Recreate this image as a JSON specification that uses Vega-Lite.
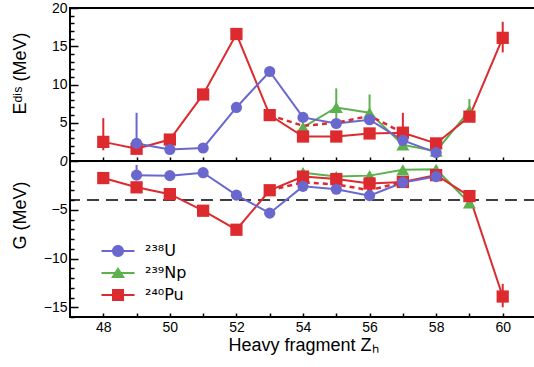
{
  "$schema": "https://vega.github.io/schema/vega-lite/v6.json",
  "autosize": {"type": "pad"},
  "padding": {"left": 9, "top": 0, "right": 0, "bottom": 0},
  "spacing": 0,
  "bounds": "flush",
  "datasets": {
    "edis": [
      {"iso": "²³⁹Np", "Z": 54, "v": 4.4},
      {"iso": "²³⁹Np", "Z": 55, "v": 7.0},
      {"iso": "²³⁹Np", "Z": 56, "v": 6.3},
      {"iso": "²³⁹Np", "Z": 57, "v": 2.1},
      {"iso": "²³⁹Np", "Z": 58, "v": 1.3},
      {"iso": "²³⁹Np", "Z": 59, "v": 6.6},
      {"iso": "²⁴⁰Pu", "Z": 48, "v": 2.5},
      {"iso": "²⁴⁰Pu", "Z": 49, "v": 1.6},
      {"iso": "²⁴⁰Pu", "Z": 50, "v": 2.8},
      {"iso": "²⁴⁰Pu", "Z": 51, "v": 8.7},
      {"iso": "²⁴⁰Pu", "Z": 52, "v": 16.6},
      {"iso": "²⁴⁰Pu", "Z": 53, "v": 6.0},
      {"iso": "²⁴⁰Pu", "Z": 54, "v": 3.2},
      {"iso": "²⁴⁰Pu", "Z": 55, "v": 3.2},
      {"iso": "²⁴⁰Pu", "Z": 56, "v": 3.6},
      {"iso": "²⁴⁰Pu", "Z": 57, "v": 3.7},
      {"iso": "²⁴⁰Pu", "Z": 58, "v": 2.3},
      {"iso": "²⁴⁰Pu", "Z": 59, "v": 5.8},
      {"iso": "²⁴⁰Pu", "Z": 60, "v": 16.1},
      {"iso": "²³⁸U", "Z": 49, "v": 2.3},
      {"iso": "²³⁸U", "Z": 50, "v": 1.5},
      {"iso": "²³⁸U", "Z": 51, "v": 1.7},
      {"iso": "²³⁸U", "Z": 52, "v": 7.0},
      {"iso": "²³⁸U", "Z": 53, "v": 11.7},
      {"iso": "²³⁸U", "Z": 54, "v": 5.7},
      {"iso": "²³⁸U", "Z": 55, "v": 4.9},
      {"iso": "²³⁸U", "Z": 56, "v": 5.4},
      {"iso": "²³⁸U", "Z": 57, "v": 2.7},
      {"iso": "²³⁸U", "Z": 58, "v": 1.1}
    ],
    "edis_dash": [
      {"iso": "²⁴⁰Pu", "Z": 53, "v": 6.0},
      {"iso": "²⁴⁰Pu", "Z": 54, "v": 4.6},
      {"iso": "²⁴⁰Pu", "Z": 55, "v": 5.0},
      {"iso": "²⁴⁰Pu", "Z": 56, "v": 5.9},
      {"iso": "²⁴⁰Pu", "Z": 57, "v": 3.7}
    ],
    "edis_err": [
      {"iso": "²⁴⁰Pu", "Z": 48, "lo": 1.4, "hi": 5.6},
      {"iso": "²³⁸U", "Z": 49, "lo": 1.6, "hi": 6.3},
      {"iso": "²³⁹Np", "Z": 55, "lo": 5.5, "hi": 9.5},
      {"iso": "²³⁹Np", "Z": 56, "lo": 5.0, "hi": 8.7},
      {"iso": "²⁴⁰Pu", "Z": 57, "lo": 2.0, "hi": 6.3},
      {"iso": "²³⁹Np", "Z": 59, "lo": 6.0, "hi": 8.1},
      {"iso": "²⁴⁰Pu", "Z": 60, "lo": 14.2, "hi": 18.2}
    ],
    "gval": [
      {"iso": "²³⁹Np", "Z": 54, "v": -1.2},
      {"iso": "²³⁹Np", "Z": 55, "v": -1.6},
      {"iso": "²³⁹Np", "Z": 56, "v": -1.5},
      {"iso": "²³⁹Np", "Z": 57, "v": -0.9},
      {"iso": "²³⁹Np", "Z": 58, "v": -0.85},
      {"iso": "²³⁹Np", "Z": 59, "v": -4.3},
      {"iso": "²⁴⁰Pu", "Z": 48, "v": -1.75},
      {"iso": "²⁴⁰Pu", "Z": 49, "v": -2.7},
      {"iso": "²⁴⁰Pu", "Z": 50, "v": -3.4},
      {"iso": "²⁴⁰Pu", "Z": 51, "v": -5.1},
      {"iso": "²⁴⁰Pu", "Z": 52, "v": -7.05},
      {"iso": "²⁴⁰Pu", "Z": 53, "v": -3.0},
      {"iso": "²⁴⁰Pu", "Z": 54, "v": -1.6},
      {"iso": "²⁴⁰Pu", "Z": 55, "v": -1.85},
      {"iso": "²⁴⁰Pu", "Z": 56, "v": -2.3},
      {"iso": "²⁴⁰Pu", "Z": 57, "v": -2.15},
      {"iso": "²⁴⁰Pu", "Z": 58, "v": -1.45},
      {"iso": "²⁴⁰Pu", "Z": 59, "v": -3.6},
      {"iso": "²⁴⁰Pu", "Z": 60, "v": -13.9},
      {"iso": "²³⁸U", "Z": 49, "v": -1.45},
      {"iso": "²³⁸U", "Z": 50, "v": -1.5},
      {"iso": "²³⁸U", "Z": 51, "v": -1.2},
      {"iso": "²³⁸U", "Z": 52, "v": -3.5},
      {"iso": "²³⁸U", "Z": 53, "v": -5.35},
      {"iso": "²³⁸U", "Z": 54, "v": -2.6},
      {"iso": "²³⁸U", "Z": 55, "v": -2.9},
      {"iso": "²³⁸U", "Z": 56, "v": -3.55},
      {"iso": "²³⁸U", "Z": 57, "v": -2.2},
      {"iso": "²³⁸U", "Z": 58, "v": -1.6}
    ],
    "g_dash": [
      {"iso": "²⁴⁰Pu", "Z": 53, "v": -3.0},
      {"iso": "²⁴⁰Pu", "Z": 54, "v": -2.2},
      {"iso": "²⁴⁰Pu", "Z": 55, "v": -2.4},
      {"iso": "²⁴⁰Pu", "Z": 56, "v": -3.0},
      {"iso": "²⁴⁰Pu", "Z": 57, "v": -2.15}
    ],
    "g_err": [
      {"iso": "²⁴⁰Pu", "Z": 48, "lo": -2.2, "hi": -1.3},
      {"iso": "²³⁸U", "Z": 49, "lo": -1.9, "hi": -0.4},
      {"iso": "²⁴⁰Pu", "Z": 60, "lo": -15.0, "hi": -12.6}
    ],
    "g_ref": [{"g": -4}]
  },
  "vconcat": [
    {
      "width": 466,
      "height": 153,
      "resolve": {"axis": {"x": "independent", "y": "independent"}},
      "layer": [
        {
          "data": {"name": "edis"},
          "mark": {"type": "line", "strokeWidth": 2},
          "encoding": {
            "x": {"field": "Z", "type": "quantitative", "scale": {"domain": [47, 61], "nice": false, "zero": false},
              "axis": {"values": [48,49,50,51,52,53,54,55,56,57,58,59,60], "tickSize": -4, "labels": false, "title": null}},
            "y": {"field": "v", "type": "quantitative", "scale": {"domain": [0, 20], "nice": false, "zero": false},
              "axis": {"values": [0,1,2,3,4,5,6,7,8,9,10,11,12,13,14,15,16,17,18,19,20],
                "tickSize": {"condition": {"test": "datum.value % 5 === 0", "value": -8}, "value": -4},
                "labelExpr": "datum.value % 5 === 0 ? datum.label : ''",
                "labelFontStyle": {"condition": {"test": "datum.value === 0", "value": "italic"}, "value": "normal"},
                "labelPadding": 11,
                "title": "Eᵈⁱˢ (MeV)", "titleX": -50, "titleY": 65, "titleAlign": "center", "titleBaseline": "middle", "titleAngle": -90}},
            "color": {"field": "iso", "type": "nominal", "scale": {"domain": ["²³⁸U", "²³⁹Np", "²⁴⁰Pu"], "range": ["#6a67cf", "#5cb04e", "#dc2a2e"]}}
          }
        },
        {
          "data": {"name": "edis_dash"},
          "mark": {"type": "line", "strokeWidth": 2.5, "strokeDash": [5, 4], "color": "#dc2a2e"},
          "encoding": {
            "x": {"field": "Z", "type": "quantitative", "axis": null},
            "y": {"field": "v", "type": "quantitative", "axis": null}
          }
        },
        {
          "data": {"name": "edis_err"},
          "mark": {"type": "rule", "strokeWidth": 2},
          "encoding": {
            "x": {"field": "Z", "type": "quantitative", "axis": null},
            "y": {"field": "lo", "type": "quantitative", "axis": null},
            "y2": {"field": "hi"},
            "color": {"field": "iso", "type": "nominal"}
          }
        },
        {
          "data": {"name": "edis"},
          "transform": [{"filter": "datum.iso === '²³⁹Np'"}],
          "mark": {"type": "point", "shape": "triangle-up", "size": 170, "filled": true, "opacity": 1, "strokeWidth": 0},
          "encoding": {
            "x": {"field": "Z", "type": "quantitative", "axis": null},
            "y": {"field": "v", "type": "quantitative", "axis": null},
            "color": {"field": "iso", "type": "nominal"}
          }
        },
        {
          "data": {"name": "edis"},
          "transform": [{"filter": "datum.iso === '²⁴⁰Pu'"}],
          "mark": {"type": "point", "shape": "square", "size": 150, "filled": true, "opacity": 1, "strokeWidth": 0},
          "encoding": {
            "x": {"field": "Z", "type": "quantitative", "axis": null},
            "y": {"field": "v", "type": "quantitative", "axis": null},
            "color": {"field": "iso", "type": "nominal"}
          }
        },
        {
          "data": {"name": "edis"},
          "transform": [{"filter": "datum.iso === '²³⁸U'"}],
          "mark": {"type": "point", "shape": "circle", "size": 125, "filled": true, "opacity": 1, "strokeWidth": 0},
          "encoding": {
            "x": {"field": "Z", "type": "quantitative", "axis": null},
            "y": {"field": "v", "type": "quantitative", "axis": null},
            "color": {"field": "iso", "type": "nominal"}
          }
        }
      ]
    },
    {
      "width": 466,
      "height": 156,
      "resolve": {"axis": {"x": "independent", "y": "independent"}},
      "layer": [
        {
          "data": {"name": "g_ref"},
          "mark": {"type": "rule", "strokeWidth": 1.5, "strokeDash": [12, 7], "color": "black"},
          "encoding": {
            "y": {"field": "g", "type": "quantitative", "axis": null}
          }
        },
        {
          "data": {"name": "gval"},
          "mark": {"type": "line", "strokeWidth": 2},
          "encoding": {
            "x": {"field": "Z", "type": "quantitative", "scale": {"domain": [47, 61], "nice": false, "zero": false},
              "axis": {"values": [48,49,50,51,52,53,54,55,56,57,58,59,60], "tickSize": -4,
                "labelExpr": "datum.value % 2 === 0 ? datum.label : ''", "labelPadding": 7,
                "title": "Heavy fragment Zₕ", "titlePadding": 2}},
            "y": {"field": "v", "type": "quantitative", "scale": {"domain": [-16, 0], "nice": false, "zero": false},
              "axis": {"values": [-16,-15,-14,-13,-12,-11,-10,-9,-8,-7,-6,-5,-4,-3,-2,-1],
                "tickSize": {"condition": {"test": "datum.value % 5 === 0", "value": -8}, "value": -4},
                "labelExpr": "datum.value % 5 === 0 ? datum.label : ''",
                "labelPadding": 11,
                "title": "G (MeV)", "titleX": -50, "titleY": 54, "titleAlign": "center", "titleBaseline": "middle", "titleAngle": -90}},
            "color": {"field": "iso", "type": "nominal"}
          }
        },
        {
          "data": {"name": "g_dash"},
          "mark": {"type": "line", "strokeWidth": 2.5, "strokeDash": [5, 4], "color": "#dc2a2e"},
          "encoding": {
            "x": {"field": "Z", "type": "quantitative", "axis": null},
            "y": {"field": "v", "type": "quantitative", "axis": null}
          }
        },
        {
          "data": {"name": "g_err"},
          "mark": {"type": "rule", "strokeWidth": 2},
          "encoding": {
            "x": {"field": "Z", "type": "quantitative", "axis": null},
            "y": {"field": "lo", "type": "quantitative", "axis": null},
            "y2": {"field": "hi"},
            "color": {"field": "iso", "type": "nominal"}
          }
        },
        {
          "data": {"name": "gval"},
          "transform": [{"filter": "datum.iso === '²³⁹Np'"}],
          "mark": {"type": "point", "shape": "triangle-up", "size": 170, "filled": true, "opacity": 1, "strokeWidth": 0},
          "encoding": {
            "x": {"field": "Z", "type": "quantitative", "axis": null},
            "y": {"field": "v", "type": "quantitative", "axis": null},
            "color": {"field": "iso", "type": "nominal"}
          }
        },
        {
          "data": {"name": "gval"},
          "transform": [{"filter": "datum.iso === '²⁴⁰Pu'"}],
          "mark": {"type": "point", "shape": "square", "size": 150, "filled": true, "opacity": 1, "strokeWidth": 0},
          "encoding": {
            "x": {"field": "Z", "type": "quantitative", "axis": null},
            "y": {"field": "v", "type": "quantitative", "axis": null},
            "color": {"field": "iso", "type": "nominal"}
          }
        },
        {
          "data": {"name": "gval"},
          "transform": [{"filter": "datum.iso === '²³⁸U'"}],
          "mark": {"type": "point", "shape": "circle", "size": 125, "filled": true, "opacity": 1, "strokeWidth": 0},
          "encoding": {
            "x": {"field": "Z", "type": "quantitative", "axis": null},
            "y": {"field": "v", "type": "quantitative", "axis": null},
            "color": {"field": "iso", "type": "nominal"}
          }
        },
        {
          "data": {"name": "gval"},
          "transform": [{"filter": "false"}],
          "mark": {"type": "point", "filled": true, "opacity": 1, "strokeWidth": 0},
          "encoding": {
            "x": {"field": "Z", "type": "quantitative", "axis": null},
            "y": {"field": "v", "type": "quantitative", "axis": null},
            "color": {"field": "iso", "type": "nominal",
              "legend": {"orient": "none", "legendX": 40, "legendY": 235, "title": null,
                "labelFont": "DejaVu Sans", "labelFontSize": 16, "labelOffset": 19, "rowPadding": 6, "symbolSize": 196, "symbolStrokeWidth": 0}},
            "shape": {"field": "iso", "type": "nominal",
              "scale": {"domain": ["²³⁸U", "²³⁹Np", "²⁴⁰Pu"], "range": [
                "M-2.36,-0.14H2.36V0.14H-2.36Z M0.86,0A0.86,0.86 0 1,1 -0.86,0A0.86,0.86 0 1,1 0.86,0Z",
                "M-2.36,-0.14H2.36V0.14H-2.36Z M0,-0.86L1,0.71L-1,0.71Z",
                "M-2.36,-0.14H2.36V0.14H-2.36Z M-0.86,-0.86H0.86V0.86H-0.86Z"]},
              "legend": {"orient": "none", "legendX": 40, "legendY": 235, "title": null,
                "labelFont": "DejaVu Sans", "labelFontSize": 16, "labelOffset": 19, "rowPadding": 6, "symbolSize": 196, "symbolStrokeWidth": 0}}
          }
        }
      ]
    }
  ],
  "config": {
    "font": "Liberation Sans",
    "view": {"stroke": "black", "strokeWidth": 2},
    "axis": {"domain": false, "grid": false, "tickColor": "black", "tickWidth": 1.5,
      "labelFont": "Liberation Sans", "titleFont": "Liberation Sans", "labelColor": "black", "titleColor": "black",
      "labelFontSize": 14, "titleFontSize": 18, "titleFontWeight": "normal"},
    "legend": {"labelColor": "black"}
  }
}
